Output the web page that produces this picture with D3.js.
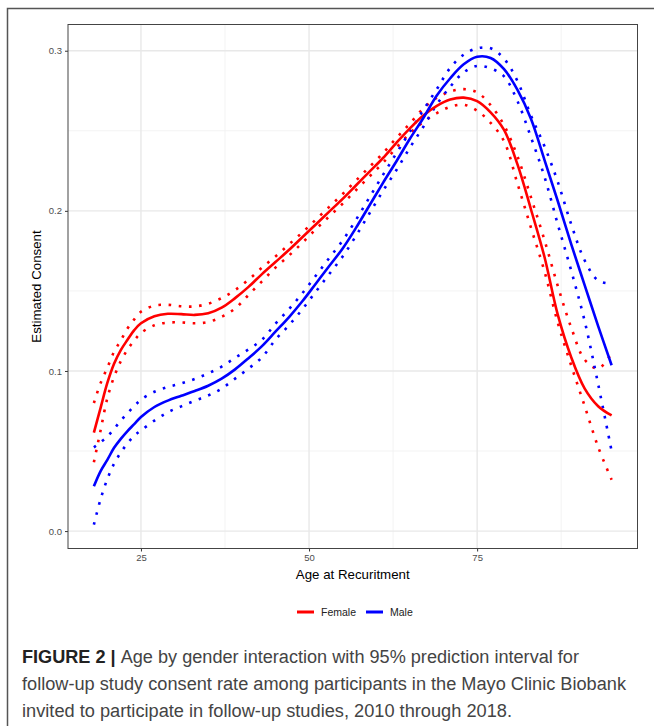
<!DOCTYPE html>
<html>
<head>
<meta charset="utf-8">
<script src="https://cdn.jsdelivr.net/npm/d3@7"></script>
<style>
  body { margin: 0; background: #fff; }
  svg { display: block; }
</style>
</head>
<body>
<svg id="fig" width="654" height="726"></svg>
<script>
const ages = [18, 19, 20, 21, 22, 23, 24, 25, 27, 29, 31, 33, 35, 37, 39, 41, 43, 45, 47, 49, 51,
  53, 55, 57, 59, 61, 63, 65, 67, 69, 71, 73, 75, 77, 79, 81, 83, 85, 87, 89, 91, 93, 95];

const femaleFit = [0.0615, 0.077, 0.0925, 0.1045, 0.113, 0.1195, 0.1255, 0.1298, 0.1342, 0.1357, 0.1355,
  0.135, 0.136, 0.1395, 0.1455, 0.1525, 0.1605, 0.168, 0.1755, 0.1835, 0.1915,
  0.1995, 0.2075, 0.216, 0.2245, 0.233, 0.2425, 0.2515, 0.2595, 0.2655, 0.2695, 0.2707, 0.2685,
  0.2615, 0.2505, 0.229, 0.201, 0.1715, 0.135, 0.1085, 0.089, 0.078, 0.0722];
const femaleUpper = [0.080, 0.0925, 0.102, 0.112, 0.119, 0.1265, 0.1322, 0.137, 0.1408, 0.1413, 0.1404,
  0.1403, 0.142, 0.1455, 0.1505, 0.157, 0.1645, 0.1715, 0.179, 0.1865, 0.1945,
  0.2025, 0.2105, 0.219, 0.2275, 0.236, 0.2455, 0.2545, 0.264, 0.2705, 0.2745, 0.276, 0.274,
  0.266, 0.2535, 0.234, 0.2085, 0.182, 0.153, 0.127, 0.107, 0.1015, 0.111];
const femaleLower = [0.043, 0.063, 0.083, 0.0963, 0.106, 0.1133, 0.119, 0.1237, 0.1285, 0.1302, 0.1303,
  0.1298, 0.1306, 0.1338, 0.139, 0.1475, 0.156, 0.1645, 0.172, 0.180, 0.1885,
  0.1965, 0.2045, 0.213, 0.2215, 0.230, 0.2395, 0.2485, 0.2555, 0.261, 0.265, 0.2663, 0.2625,
  0.255, 0.2435, 0.217, 0.1895, 0.1625, 0.130, 0.1033, 0.078, 0.0525, 0.032];

const maleFit = [0.028, 0.0375, 0.0445, 0.052, 0.0576, 0.0625, 0.0668, 0.0712, 0.0775, 0.0815, 0.0845,
  0.0875, 0.0908, 0.0952, 0.101, 0.108, 0.1155, 0.1245, 0.1335, 0.1435, 0.1545,
  0.1655, 0.1765, 0.1895, 0.2035, 0.2175, 0.231, 0.245, 0.258, 0.272, 0.2828, 0.2915, 0.2962,
  0.2955, 0.2885, 0.2755, 0.2575, 0.232, 0.206, 0.179, 0.1535, 0.128, 0.1036];
const maleUpper = [0.0523, 0.0555, 0.059, 0.0638, 0.069, 0.0737, 0.078, 0.082, 0.087, 0.09, 0.0922,
  0.095, 0.0985, 0.1027, 0.1082, 0.1135, 0.1195, 0.1295, 0.1385, 0.1485, 0.1595,
  0.1705, 0.1815, 0.1945, 0.2085, 0.2225, 0.236, 0.2495, 0.263, 0.276, 0.2893, 0.2975, 0.3015,
  0.3015, 0.295, 0.281, 0.2595, 0.2405, 0.218, 0.1915, 0.169, 0.1565, 0.1545];
const maleLower = [0.004, 0.020, 0.0325, 0.042, 0.049, 0.0548, 0.0595, 0.0628, 0.069, 0.0742, 0.0779,
  0.0814, 0.0847, 0.089, 0.0952, 0.1015, 0.1085, 0.1195, 0.1285, 0.1385, 0.1495,
  0.1605, 0.1715, 0.1845, 0.1985, 0.2125, 0.2255, 0.2395, 0.2525, 0.2665, 0.2775, 0.2865, 0.2905,
  0.289, 0.284, 0.2685, 0.246, 0.2215, 0.1915, 0.1625, 0.131, 0.0917, 0.050];

const groups = ["Female", "Male"];
const colours = ["#FF0000", "#0000FF"];

const xTicks = [25, 50, 75];
const xMinor = [37.5, 62.5, 87.5];
const yTicks = [0, 0.1, 0.2, 0.3];
const yMinor = [0.05, 0.15, 0.25];

const captionLines = [
  "Age by gender interaction with 95% prediction interval for",
  "follow-up study consent rate among participants in the Mayo Clinic Biobank",
  "invited to participate in follow-up studies, 2010 through 2018."
];

/////////////////////////////////////
// panel geometry
/////////////////////////////////////
const svg = d3.select("#fig");
const panel = {left: 68, right: 637.5, top: 24.5, bottom: 548.5};
const font = "'Liberation Sans', Arial, sans-serif";

// ggplot-like 5% expansion of the data range
const allY = [].concat(femaleUpper, femaleLower, maleUpper, maleLower);
const xExt = d3.extent(ages), yExt = d3.extent(allY);
const xPad = (xExt[1] - xExt[0]) * 0.05, yPad = (yExt[1] - yExt[0]) * 0.05;

const x = d3.scaleLinear().domain([xExt[0] - xPad, xExt[1] + xPad]).range([panel.left, panel.right]);
const y = d3.scaleLinear().domain([yExt[0] - yPad, yExt[1] + yPad]).range([panel.bottom, panel.top]);

// outer figure frame
svg.append("path")
  .attr("d", "M7.5,726 L7.5,8.5 L654,8.5")
  .attr("fill", "none")
  .attr("stroke", "#555")
  .attr("stroke-width", 1.5);

// grid
const grid = svg.append("g");
grid.selectAll(".xmin").data(xMinor).join("line")
  .attr("x1", d => x(d)).attr("x2", d => x(d))
  .attr("y1", panel.top).attr("y2", panel.bottom)
  .attr("stroke", "#f0f0f0").attr("stroke-width", 0.8);
grid.selectAll(".ymin").data(yMinor).join("line")
  .attr("y1", d => y(d)).attr("y2", d => y(d))
  .attr("x1", panel.left).attr("x2", panel.right)
  .attr("stroke", "#f0f0f0").attr("stroke-width", 0.8);
grid.selectAll(".xmaj").data(xTicks).join("line")
  .attr("x1", d => x(d)).attr("x2", d => x(d))
  .attr("y1", panel.top).attr("y2", panel.bottom)
  .attr("stroke", "#e8e8e8").attr("stroke-width", 1.4);
grid.selectAll(".ymaj").data(yTicks).join("line")
  .attr("y1", d => y(d)).attr("y2", d => y(d))
  .attr("x1", panel.left).attr("x2", panel.right)
  .attr("stroke", "#e8e8e8").attr("stroke-width", 1.4);

// axes
const xAxis = svg.append("g")
  .attr("transform", "translate(0," + panel.bottom + ")")
  .call(d3.axisBottom(x).tickValues(xTicks).tickFormat(d3.format("d")).tickSizeOuter(0).tickSize(3).tickPadding(3));
const yAxis = svg.append("g")
  .attr("transform", "translate(" + panel.left + ",0)")
  .call(d3.axisLeft(y).tickValues(yTicks).tickFormat(d3.format(".1f")).tickSizeOuter(0).tickSize(3).tickPadding(3));
[xAxis, yAxis].forEach(a => {
  a.select(".domain").remove();
  a.selectAll(".tick line").attr("stroke", "#333");
  a.selectAll(".tick text")
    .attr("fill", "#4d4d4d")
    .attr("font-family", font)
    .attr("font-size", "9.5px");
});

// curves
const line = d3.line()
  .x((d, i) => x(ages[i]))
  .y(d => y(d))
  .curve(d3.curveCatmullRom.alpha(0.5));

const series = [
  {vals: femaleUpper, col: 0, dotted: true},
  {vals: femaleLower, col: 0, dotted: true},
  {vals: maleUpper, col: 1, dotted: true},
  {vals: maleLower, col: 1, dotted: true},
  {vals: femaleFit, col: 0, dotted: false},
  {vals: maleFit, col: 1, dotted: false}
];

const plot = svg.append("g");
series.forEach(s => {
  plot.append("path")
    .attr("d", line(s.vals))
    .attr("fill", "none")
    .attr("stroke", colours[s.col])
    .attr("stroke-width", 2.6)
    .attr("stroke-dasharray", s.dotted ? "2.6 7.6" : null);
});

// panel border
svg.append("rect")
  .attr("x", panel.left).attr("y", panel.top)
  .attr("width", panel.right - panel.left).attr("height", panel.bottom - panel.top)
  .attr("fill", "none").attr("stroke", "#444").attr("stroke-width", 1);

// axis titles
svg.append("text")
  .attr("x", (panel.left + panel.right) / 2).attr("y", 579)
  .attr("text-anchor", "middle")
  .attr("font-family", font)
  .attr("font-size", "13.3px")
  .attr("fill", "#000")
  .text("Age at Recuritment");

svg.append("text")
  .attr("transform", "translate(41," + (panel.top + panel.bottom) / 2 + ") rotate(-90)")
  .attr("text-anchor", "middle")
  .attr("font-family", font)
  .attr("font-size", "13.3px")
  .attr("fill", "#000")
  .text("Estimated Consent");

// legend
const legend = svg.append("g").attr("transform", "translate(297,612)");
const legX = [0, 69];
groups.forEach((g, i) => {
  legend.append("line")
    .attr("x1", legX[i]).attr("x2", legX[i] + 17)
    .attr("y1", 0).attr("y2", 0)
    .attr("stroke", colours[i]).attr("stroke-width", 3);
  legend.append("text")
    .attr("x", legX[i] + 24).attr("y", 4)
    .attr("font-family", font)
    .attr("font-size", "10.5px")
    .attr("fill", "#222")
    .text(g);
});

// caption
const capWidths = [557, 604, 490];
const cap = svg.append("g");
const first = cap.append("text")
  .attr("x", 22).attr("y", 663)
  .attr("font-family", font)
  .attr("font-size", "18px")
  .attr("fill", "#444");
first.append("tspan").attr("font-weight", "bold").attr("fill", "#222").text("FIGURE 2 | ");
first.append("tspan").text(captionLines[0]);
first.attr("textLength", capWidths[0]).attr("lengthAdjust", "spacingAndGlyphs");

captionLines.slice(1).forEach((t, i) => {
  cap.append("text")
    .attr("x", 22).attr("y", 690 + i * 27)
    .attr("font-family", font)
    .attr("font-size", "18px")
    .attr("fill", "#444")
    .attr("textLength", capWidths[i + 1])
    .attr("lengthAdjust", "spacingAndGlyphs")
    .text(t);
});
</script>
</body>
</html>
